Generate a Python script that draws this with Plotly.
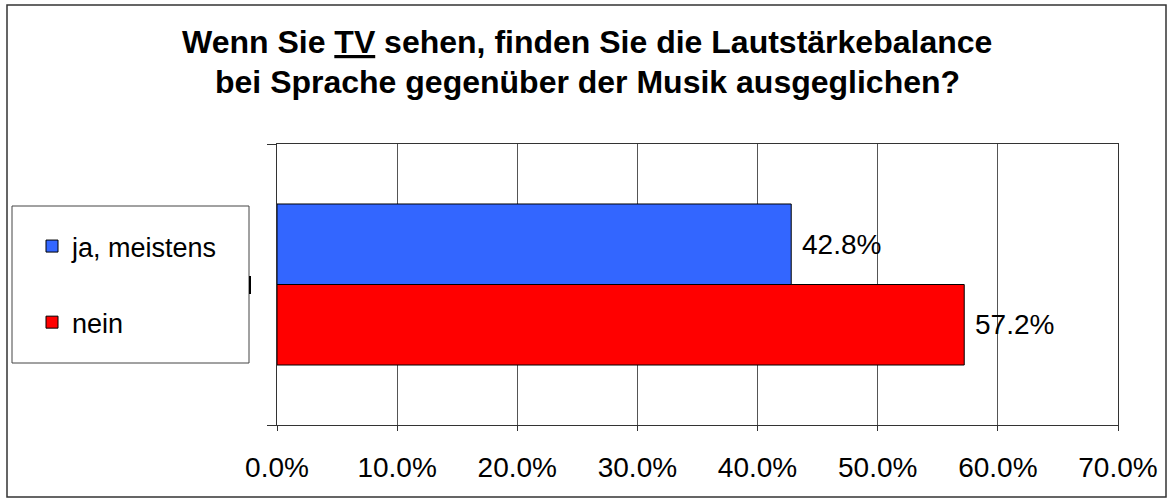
import plotly.graph_objects as go

FONT = "Liberation Sans, Arial, sans-serif"

answers = ["nein", "ja, meistens"]
shares = [0.572, 0.428]
bar_colors = ["#FF0000", "#3366FF"]
legend_ranks = [2, 1]
x_ticks = [0.0, 0.1, 0.2, 0.3, 0.4, 0.5, 0.6, 0.7]
title_lines = [
    "Wenn Sie <u>TV</u> sehen, finden Sie die Lautstärkebalance",
    "bei Sprache gegenüber der Musik ausgeglichen?",
]

# plot area in pixels: x 277..1118, y 144..425
W, H = 1174, 503
L, R, T, B = 277, 56, 144, 78
PW, PH = W - L - R, H - T - B


def px(x):
    return (x - L) / PW


def py(y):
    return (H - B - y) / PH


fig = go.Figure()
for name, val, col, rank in zip(answers, shares, bar_colors, legend_ranks):
    fig.add_trace(go.Bar(
        x=[val],
        y=["TV"],
        orientation="h",
        name=name,
        legendgroup=name,
        legendrank=rank,
        marker=dict(color=col, line=dict(color="black", width=1)),
        text=[f" {val * 100:.1f}%"],
        textposition="outside",
        textfont=dict(family=FONT, size=28, color="black"),
        cliponaxis=False,
        hoverinfo="skip",
    ))

shapes = [
    # outer frame
    dict(type="rect", xref="paper", yref="paper",
         x0=px(7), x1=px(1166), y0=py(497), y1=py(5),
         line=dict(color="#333", width=1.5), layer="below"),
    # legend frame
    dict(type="rect", xref="paper", yref="paper",
         x0=px(12), x1=px(249), y0=py(363), y1=py(206),
         line=dict(color="#444", width=1)),
    dict(type="line", xref="paper", yref="paper",
         x0=px(250), x1=px(250), y0=py(294), y1=py(276),
         line=dict(color="black", width=2)),
]

annotations = [
    dict(text=t, xref="paper", yref="paper", x=px(587), y=py(yc),
         xanchor="center", yanchor="middle", showarrow=False,
         font=dict(family=FONT, size=32, color="black", weight="bold"))
    for t, yc in zip(title_lines, [42, 82])
]

fig.update_layout(
    width=W, height=H,
    margin=dict(l=L, r=R, t=T, b=B),
    paper_bgcolor="white",
    plot_bgcolor="white",
    barmode="group",
    bargap=0.427,
    bargroupgap=0,
    showlegend=True,
    legend=dict(
        x=px(32), y=py(222), xanchor="left", yanchor="top",
        traceorder="grouped",
        tracegroupgap=38,
        font=dict(family=FONT, size=27, color="black"),
        bgcolor="rgba(0,0,0,0)",
        borderwidth=0,
    ),
    shapes=shapes,
    annotations=annotations,
    xaxis=dict(
        range=[0, 0.7],
        tickvals=x_ticks,
        tickformat=".1%",
        showgrid=True, gridcolor="#555", gridwidth=1,
        zeroline=False,
        showline=True, linecolor="#333", linewidth=1, mirror=True,
        ticks="outside", ticklen=5, tickcolor="#333",
        ticklabelstandoff=12,
        tickfont=dict(family=FONT, size=28, color="black"),
        fixedrange=True,
    ),
    yaxis=dict(
        showticklabels=False,
        showgrid=False,
        showline=True, linecolor="#333", linewidth=1, mirror=True,
        ticks="outside", ticklen=9, tickcolor="#333",
        tickson="boundaries",
        fixedrange=True,
    ),
)

fig.write_html("out.html", config={"displayModeBar": False},
               post_script="document.body.style.margin = '0';")
